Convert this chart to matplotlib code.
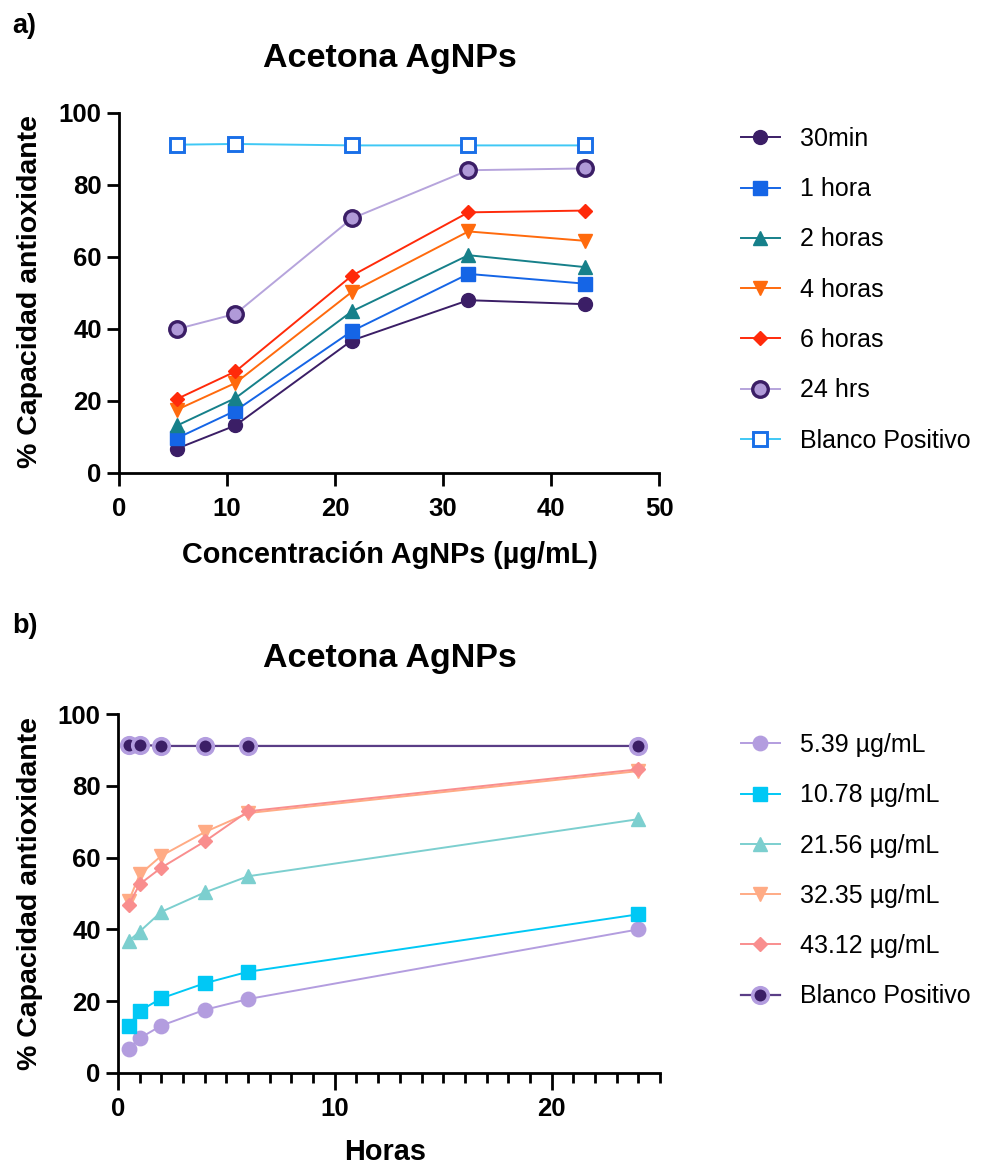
import matplotlib
matplotlib.use('Agg')
from matplotlib import pyplot as plt
from matplotlib.ticker import MultipleLocator

plt.rcParams['font.family'] = ['Liberation Sans', 'DejaVu Sans']

# data
conc = [5.39, 10.78, 21.56, 32.35, 43.12]
hours = [0.5, 1, 2, 4, 6, 24]
cap_30min = [6.8, 13.2, 36.8, 48.0, 46.9]
cap_1h = [9.7, 17.3, 39.4, 55.3, 52.6]
cap_2h = [13.2, 20.8, 44.9, 60.5, 57.2]
cap_4h = [17.6, 25.0, 50.3, 67.1, 64.5]
cap_6h = [20.6, 28.2, 54.8, 72.4, 72.9]
cap_24h = [40.0, 44.2, 70.7, 84.1, 84.6]
blanco_conc = [91.2, 91.4, 91.0, 91.0, 91.0]
blanco_horas = [91.3, 91.4, 91.1, 91.1, 91.1, 91.1]
time_labels = ['30min', '1 hora', '2 horas', '4 horas', '6 horas', '24 hrs']
conc_labels = ['5.39 µg/mL', '10.78 µg/mL', '21.56 µg/mL', '32.35 µg/mL', '43.12 µg/mL']

W, H = 1002, 1167
fig = plt.figure(figsize=(W/100, H/100), dpi=100)

def style_axes(ax, xmajor_len, xpad):
    for s in ['top', 'right']:
        ax.spines[s].set_visible(False)
    for s in ['left', 'bottom']:
        ax.spines[s].set_linewidth(2.0)
    ax.tick_params(axis='y', which='major', length=9, width=2.0, pad=3.5,
                   labelsize=18.5)
    ax.tick_params(axis='x', which='major', length=xmajor_len, width=2.0, pad=xpad,
                   labelsize=18.5)
    for lab in ax.get_xticklabels() + ax.get_yticklabels():
        lab.set_fontweight('bold')
    ax.set_ylim(0, 100)
    ax.set_yticks([0, 20, 40, 60, 80, 100])

leg_kw = dict(bbox_transform=fig.transFigure, frameon=False, fontsize=18,
              borderpad=0, borderaxespad=0, labelspacing=1.05, handlelength=1.55,
              handletextpad=0.8)

# ---------- panel a ----------
ax1 = fig.add_axes([119/W, (H-473)/H, 540/W, 360/H])
top_series = [cap_30min, cap_1h, cap_2h, cap_4h, cap_6h, cap_24h]
top_styles = [
    dict(color='#3b1e66', marker='o', ms=10, mfc='#3b1e66', mec='#3b1e66'),
    dict(color='#1565e6', marker='s', ms=9.4, mfc='#1565e6', mec='#1565e6'),
    dict(color='#16808a', marker='^', ms=10, mfc='#16808a', mec='#16808a'),
    dict(color='#ff6a0d', marker='v', ms=10, mfc='#ff6a0d', mec='#ff6a0d'),
    dict(color='#ff2a0a', marker='D', ms=6.8, mfc='#ff2a0a', mec='#ff2a0a'),
    dict(color='#b6a4dc', marker='o', ms=11.2, mfc='#b09ad8', mec='#3b1e66', mew=2.4),
]
for vals, lab, st in zip(top_series, time_labels, top_styles):
    ax1.plot(conc, vals, label=lab, lw=1.4, clip_on=False, **st)
ax1.plot(conc, blanco_conc, label='Blanco Positivo', lw=1.4, color='#3fc8f5',
         marker='s', ms=10.2, mfc='white', mec='#1a6fe8', mew=2.1, clip_on=False)
ax1.set_xlim(0, 50)
ax1.set_xticks([0, 10, 20, 30, 40, 50])
style_axes(ax1, 9.5, 7.5)
ax1.legend(loc='upper left', bbox_to_anchor=(741/W, 1-127/H), **leg_kw)

fig.text(12/W, 1-33/H, 'a)', fontsize=19.5, fontweight='bold', ha='left', va='baseline')
fig.text(390/W, 1-67/H, 'Acetona AgNPs', fontsize=24.5, fontweight='bold',
         ha='center', va='baseline')
fig.text(30/W, 1-292/H, '% Capacidad antioxidante', fontsize=20.5, fontweight='bold',
         rotation=90, ha='center', va='center')
fig.text(390/W, 1-563/H, 'Concentración AgNPs (µg/mL)', fontsize=20.8,
         fontweight='bold', ha='center', va='baseline')

# ---------- panel b ----------
ax2 = fig.add_axes([118/W, (H-1073)/H, 542/W, 359/H])
bot_styles = [
    dict(color='#b39ddf', marker='o', ms=10.4, mfc='#b39ddf', mec='#b39ddf'),
    dict(color='#00c8f5', marker='s', ms=10.4, mfc='#00c8f5', mec='#00c8f5'),
    dict(color='#7ccfcf', marker='^', ms=10.6, mfc='#7ccfcf', mec='#7ccfcf'),
    dict(color='#ffab85', marker='v', ms=10.6, mfc='#ffab85', mec='#ffab85'),
    dict(color='#f98e8e', marker='D', ms=7, mfc='#f98e8e', mec='#f98e8e'),
]
for j, (lab, st) in enumerate(zip(conc_labels, bot_styles)):
    vals = [s[j] for s in top_series]
    ax2.plot(hours, vals, label=lab, lw=1.4, clip_on=False, **st)
ax2.plot(hours, blanco_horas, label='Blanco Positivo', lw=1.6, color='#5a3d86',
         marker='o', ms=11.2, mfc='#3b1e66', mec='#b39ddf', mew=2.6, clip_on=False)
ax2.set_xlim(0, 25)
ax2.set_xticks([0, 10, 20])
ax2.xaxis.set_minor_locator(MultipleLocator(1))
style_axes(ax2, 12, 5)
ax2.tick_params(axis='x', which='minor', length=7, width=2.0)
ax2.legend(loc='upper left', bbox_to_anchor=(741/W, 1-733/H), **leg_kw)

fig.text(12/W, 1-633/H, 'b)', fontsize=19.5, fontweight='bold', ha='left', va='baseline')
fig.text(390/W, 1-667/H, 'Acetona AgNPs', fontsize=24.5, fontweight='bold',
         ha='center', va='baseline')
fig.text(30/W, 1-893/H, '% Capacidad antioxidante', fontsize=20.5, fontweight='bold',
         rotation=90, ha='center', va='center')
fig.text(385/W, 1-1160/H, 'Horas', fontsize=20.8, fontweight='bold',
         ha='center', va='baseline')

fig.savefig('out.png', dpi=100)
